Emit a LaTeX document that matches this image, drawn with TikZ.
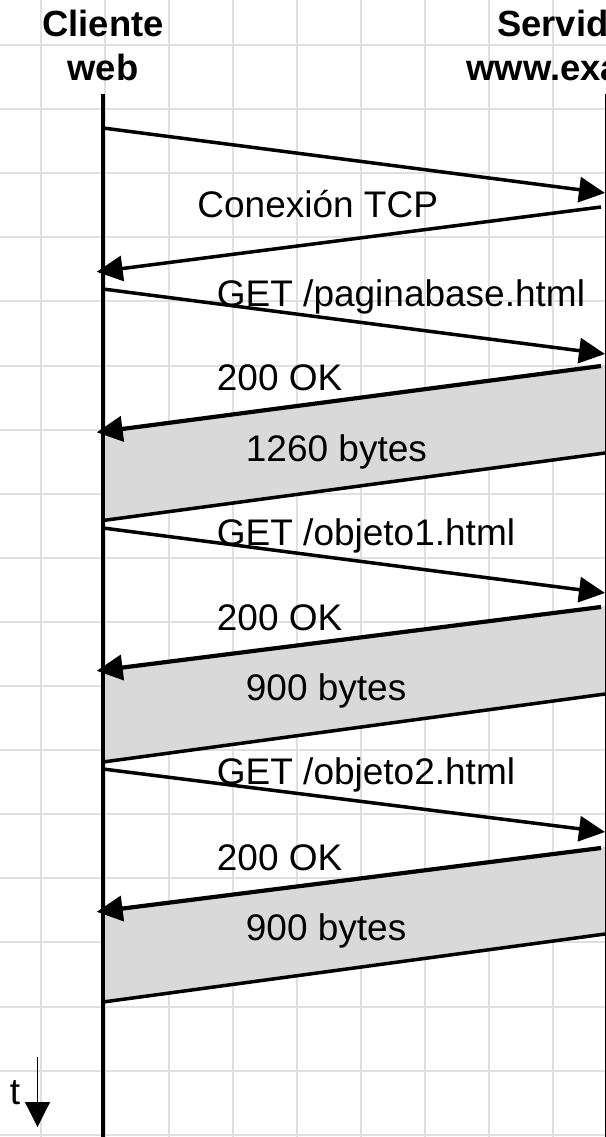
\documentclass[tikz,border=0pt]{standalone}
\usepackage{fontspec}
\setmainfont{Liberation Sans}
\usetikzlibrary{arrows.meta}

\definecolor{gridgray}{RGB}{224,224,224}
\definecolor{blockgray}{RGB}{217,217,217}

\tikzset{
  gridline/.style={draw=gridgray, line width=1pt},
  lifeline/.style={draw=black, line width=2pt},
  msg/.style={draw=black, line width=1.75pt, -{Triangle[length=13pt,width=12.5pt]}},
  reply/.style={msg, line width=2.1pt, shorten >=-3.2pt},
  blockedge/.style={draw=black, line width=1.75pt},
  payload/.style={fill=blockgray},
  label/.style={anchor=base west, inner sep=0pt, font=\fontsize{18.5}{22}\selectfont},
  head/.style={inner sep=0pt, align=center, font=\fontsize{18.2}{21.65}\selectfont\bfseries},
}

\begin{document}
\begin{tikzpicture}[x=0.5pt, y=-0.5pt]
\useasboundingbox (0,0) rectangle (606,1137);
\clip (0,0) rectangle (606,1137);

% background grid
\foreach \gx in {40.5,104.5,...,600}
  \draw[gridline] (\gx,0) -- (\gx,1137);
\foreach \gy in {45,109.1,...,1140}
  \draw[gridline] (0,\gy) -- (606,\gy);

% participants (base anchor sits on the last line)
\node[head, anchor=base] (cliente) at (103,80) {Cliente\\web};
\node[head, anchor=base] (servidor) at (611.5,80) {Servidor web\\www.example.es};

% lifelines
\coordinate (ctop) at (103,94);
\coordinate (cbot) at (103,1137);
\coordinate (stop) at (606.5,94);
\coordinate (sbot) at (606.5,1137);

% event points on the client side (c) and the server side (s)
\coordinate (c1) at (103,128);   \coordinate (s1) at (605,193);
\coordinate (s2) at (601,207);   \coordinate (c2) at (103,271);
\coordinate (c3) at (103,289);   \coordinate (s3) at (605,354);
\coordinate (s4) at (605,365);   \coordinate (s4a) at (601,366); \coordinate (c4) at (103,431.5);
\coordinate (s5) at (605,453);   \coordinate (c5) at (103,520.5);
\coordinate (c6) at (103,528);   \coordinate (s6) at (605,593);
\coordinate (s7) at (605,606);   \coordinate (s7a) at (601,607); \coordinate (c7) at (103,670);
\coordinate (s8) at (605,694);   \coordinate (c8) at (103,762);
\coordinate (c9) at (103,769);   \coordinate (s9) at (605,832);
\coordinate (s10) at (605,847);  \coordinate (s10a) at (601,848); \coordinate (c10) at (103,911);
\coordinate (s11) at (605,934);  \coordinate (c11) at (103,1002);

% data transfers
\fill[payload] (s4) -- (c4) -- (c5) -- (s5) -- cycle;
\fill[payload] (s7) -- (c7) -- (c8) -- (s8) -- cycle;
\fill[payload] (s10) -- (c10) -- (c11) -- (s11) -- cycle;

\draw[lifeline] (ctop) -- (cbot);
\draw[lifeline] (stop) -- (sbot);

% TCP connection
\draw[msg] (c1) -- (s1);
\draw[msg, shorten >=-3.2pt] (s2) -- (c2);

% base page
\draw[msg] (c3) -- (s3);
\draw[reply] (s4a) -- (c4);
\draw[blockedge] (c5) -- (s5);

% first object
\draw[msg] (c6) -- (s6);
\draw[reply] (s7a) -- (c7);
\draw[blockedge] (c8) -- (s8);

% second object
\draw[msg] (c9) -- (s9);
\draw[reply] (s10a) -- (c10);
\draw[blockedge] (c11) -- (s11);

% labels
\node[label] (lbltcp) at (197,217) {Conexión TCP};
\node[label] (lblget1) at (216.5,306) {GET /paginabase.html};
\node[label] (lblok1) at (216.5,390.7) {200 OK};
\node[label] (lblsz1) at (245.5,461.7) {1260 bytes};
\node[label] (lblget2) at (216.5,545) {GET /objeto1.html};
\node[label] (lblok2) at (216.5,630) {200 OK};
\node[label] (lblsz2) at (245.5,700.7) {900 bytes};
\node[label] (lblget3) at (216.5,784) {GET /objeto2.html};
\node[label] (lblok3) at (216.5,870.7) {200 OK};
\node[label] (lblsz3) at (245.5,940) {900 bytes};

% time axis
\node[label] (tlabel) at (9.5,1104) {t};
\coordinate (tstart) at (37.5,1057);
\coordinate (tend) at (37.5,1127);
\draw[line width=0.6pt, -{Triangle[length=12.5pt,width=12.5pt]}] (tstart) -- (tend);
\end{tikzpicture}
\end{document}
